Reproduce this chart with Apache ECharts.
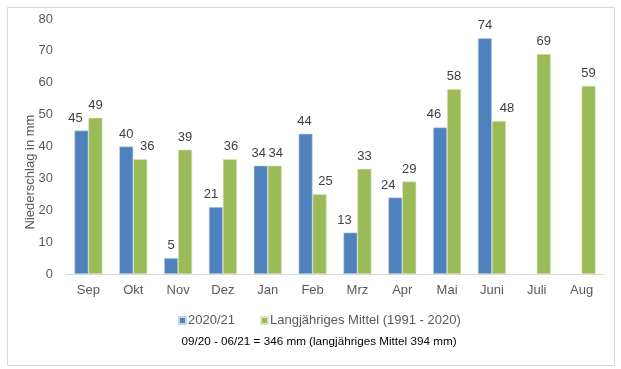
<!DOCTYPE html>
<html><head><meta charset="utf-8">
<script src="https://cdn.jsdelivr.net/npm/echarts@6/dist/echarts.min.js"></script>
<style>html,body{margin:0;padding:0;background:#fff}#c{width:621px;height:369px}</style>
</head><body><div id="c"></div>
<script>
var categories = ['Sep','Okt','Nov','Dez','Jan','Feb','Mrz','Apr','Mai','Juni','Juli','Aug'];
var values2021 = [45,40,5,21,34,44,13,24,46,74,null,null];
var valuesMittel = [49,36,39,36,34,25,33,29,58,48,69,59];
var yTicks = [0,10,20,30,40,50,60,70,80];
var seriesNames = ['2020/21','Langjähriges Mittel (1991 - 2020)'];
var footnote = '09/20 - 06/21 = 346 mm (langjähriges Mittel 394 mm)';
var yTitle = 'Niederschlag in mm';

// horizontal nudges of the value labels (style only, as placed in the original)
var labelShift2021 = [-6,0,0,-5,-2,-1,-6,-7,-6,0,0,0];
var labelShiftMittel = [0,7,0,1,1,6,0,0,0,8,0,0];

var FONT = '"Liberation Sans", Arial, sans-serif';
function withShift(vals, shifts){
  return vals.map(function(v,i){ return {value:v, label:{offset:[shifts[i],0]}}; });
}
var chart = echarts.init(document.getElementById('c'), null, {renderer:'canvas'});
var labelStyle = {show:true, position:'top', distance:6, color:'#404040', fontSize:13, fontFamily:FONT};
chart.setOption({
  animation:false,
  backgroundColor:'#fff',
  grid:{left:66, right:17, top:19, bottom:95},
  xAxis:{type:'category', data:categories,
    axisLine:{lineStyle:{color:'#d9d9d9', width:1}},
    axisTick:{show:false},
    axisLabel:{color:'#595959', fontSize:13, fontFamily:FONT, margin:10}},
  yAxis:{type:'value', min:yTicks[0], max:yTicks[yTicks.length-1], interval:10,
    axisLine:{show:false}, axisTick:{show:false}, splitLine:{show:false},
    axisLabel:{color:'#595959', fontSize:13, fontFamily:FONT, margin:13}},
  legend:{data:seriesNames, bottom:37, left:173, icon:'rect', itemWidth:7, itemHeight:7, itemGap:25,
    textStyle:{color:'#595959', fontSize:13, fontFamily:FONT, padding:[0,0,0,-3]}},
  series:[
    {name:seriesNames[0], type:'bar', data:withShift(values2021, labelShift2021), barWidth:14, barGap:'0%',
     itemStyle:{color:'#4F81BD', borderColor:'#c5d5ea', borderWidth:0.6}, label:labelStyle},
    {name:seriesNames[1], type:'bar', data:withShift(valuesMittel, labelShiftMittel), barWidth:14, barGap:'0%',
     itemStyle:{color:'#9BBB59', borderColor:'#d7e4bd', borderWidth:0.6}, label:labelStyle}
  ],
  graphic:[
    {type:'rect', shape:{x:7.5, y:7.5, width:607, height:358}, style:{fill:'none', stroke:'#d9d9d9', lineWidth:1}, silent:true, z:-1},
    {type:'text', x:30, y:172, rotation:Math.PI/2, style:{text:yTitle, fill:'#595959', font:'13px '+FONT, textAlign:'center', textVerticalAlign:'middle'}},
    {type:'text', x:319, y:342, style:{text:footnote, fill:'#000', font:'11.7px '+FONT, textAlign:'center', textVerticalAlign:'middle'}}
  ]
});
</script></body></html>
